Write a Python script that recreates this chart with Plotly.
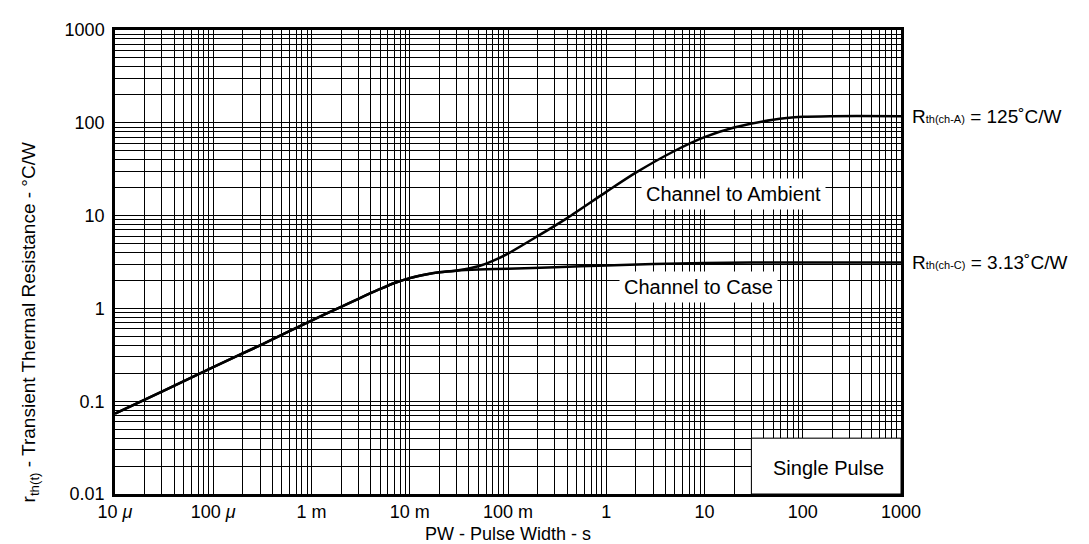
import math
import plotly.graph_objects as go

# ---- data ----
case_t = [1e-5, 3e-5, 1e-4, 3e-4, 1e-3, 2e-3, 3e-3, 5e-3, 7e-3, 0.01, 0.015, 0.02, 0.03, 0.05,
          0.1, 0.3, 1, 3, 10, 30, 100, 1000]
case_r = [0.0736, 0.127, 0.233, 0.40, 0.74, 1.04, 1.27, 1.62, 1.88, 2.12, 2.33, 2.45, 2.55, 2.62,
          2.68, 2.78, 2.90, 3.00, 3.08, 3.12, 3.13, 3.13]

amb_t = [1e-5, 3e-5, 1e-4, 3e-4, 1e-3, 2e-3, 3e-3, 5e-3, 7e-3, 0.01, 0.015, 0.02, 0.03, 0.05,
         0.07, 0.1, 0.2, 0.4, 1, 2, 5, 10, 20, 50, 100, 200, 1000]
amb_r = [0.0736, 0.127, 0.233, 0.40, 0.74, 1.04, 1.27, 1.62, 1.88, 2.12, 2.33, 2.45, 2.56, 2.85,
         3.25, 3.9, 6.0, 9.4, 18.0, 29.0, 50.0, 70.0, 89.0, 108.0, 116.0, 118.0, 118.0]

x_major = [1e-5, 1e-4, 1e-3, 1e-2, 1e-1, 1, 10, 100, 1000]
x_labels = ["10 <i>\u03bc</i>", "100 <i>\u03bc</i>", "1 m", "10 m", "100 m", "1", "10", "100", "1000"]
y_major = [0.01, 0.1, 1, 10, 100, 1000]
y_labels = ["0.01", "0.1", "1", "10", "100", "1000"]

FONT = "Liberation Sans, Arial, Helvetica, sans-serif"


def grid_ticks(majors, labels):
    vals, texts = [], []
    for i, m in enumerate(majors):
        vals.append(m)
        texts.append(labels[i])
        if i < len(majors) - 1:
            for k in range(2, 10):
                vals.append(m * k)
                texts.append("")
    return vals, texts


xv, xt = grid_ticks(x_major, x_labels)
yv, yt = grid_ticks(y_major, y_labels)

fig = go.Figure()
fig.add_trace(go.Scatter(x=case_t, y=case_r, mode="lines",
                         line=dict(color="black", width=2.5, shape="spline", smoothing=0.8),
                         showlegend=False, hoverinfo="skip"))
fig.add_trace(go.Scatter(x=amb_t, y=amb_r, mode="lines",
                         line=dict(color="black", width=2.5, shape="spline", smoothing=0.8),
                         showlegend=False, hoverinfo="skip"))

axis_common = dict(type="log", showgrid=True, gridcolor="black", gridwidth=1,
                   showline=True, linecolor="black", linewidth=2.5, mirror=True,
                   zeroline=False, ticks="", tickangle=0,
                   tickfont=dict(family=FONT, size=18, color="black"))

fig.update_xaxes(range=[-5, 3], tickmode="array", tickvals=xv, ticktext=xt, **axis_common)
fig.update_yaxes(range=[-2, 3], tickmode="array", tickvals=yv, ticktext=yt,
                 ticklabelstandoff=4, **axis_common)

xmin, xmax = -5, 3
ymin, ymax = -2, 3


def fx(v):
    return (math.log10(v) - xmin) / (xmax - xmin)


def fy(v):
    return (math.log10(v) - ymin) / (ymax - ymin)


# Single pulse box (white, covering grid)
fig.add_shape(type="rect", xref="paper", yref="paper",
              x0=fx(30), x1=1.0, y0=0.0, y1=fy(0.04),
              fillcolor="white", line=dict(color="black", width=1), layer="above")

ann_font = dict(family=FONT, size=20, color="black")
fig.add_annotation(x=math.log10(19.5), y=math.log10(17.2), xref="x", yref="y",
                   xanchor="center", yanchor="middle",
                   text="Channel to Ambient", showarrow=False, font=ann_font,
                   bgcolor="white", borderpad=4)
fig.add_annotation(x=math.log10(8.6), y=math.log10(1.7), xref="x", yref="y",
                   xanchor="center", yanchor="middle",
                   text="Channel to Case", showarrow=False, font=ann_font,
                   bgcolor="white", borderpad=4)
fig.add_annotation(x=math.log10(181), y=math.log10(0.0193), xref="x", yref="y",
                   xanchor="center", yanchor="middle",
                   text="Single Pulse", showarrow=False, font=ann_font)

lab_font = dict(family=FONT, size=19, color="black")
fig.add_annotation(x=1.012, y=math.log10(amb_r[-1]), xref="paper", yref="y",
                   xanchor="left", yanchor="middle",
                   text="R<span style='font-size:11px'>th(ch-A)</span> = 125\u02daC/W",
                   showarrow=False, font=lab_font)
fig.add_annotation(x=1.012, y=math.log10(case_r[-1]), xref="paper", yref="y",
                   xanchor="left", yanchor="middle",
                   text="R<span style='font-size:11px'>th(ch-C)</span> = 3.13\u02daC/W",
                   showarrow=False, font=lab_font)

# axis titles
fig.add_annotation(x=0.5, y=-0.11, xref="paper", yref="paper",
                   xanchor="center", yanchor="bottom", borderpad=0,
                   text="PW - Pulse Width - s", showarrow=False,
                   font=dict(family=FONT, size=18, color="black"))
fig.add_annotation(x=-0.108, y=0.37, xref="paper", yref="paper", textangle=-90,
                   xanchor="center", yanchor="middle",
                   text="r<sub>th(t)</sub> - Transient Thermal Resistance - \u00b0C/W",
                   showarrow=False, font=dict(family=FONT, size=19, color="black"))

fig.update_layout(width=1089, height=544,
                  margin=dict(l=107, r=196, t=15, b=58),
                  paper_bgcolor="white", plot_bgcolor="white",
                  font=dict(family=FONT, color="black"))

fig.write_html("out.html")
